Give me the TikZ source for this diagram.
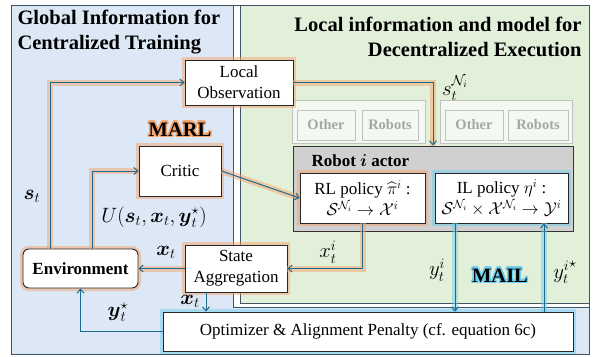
\documentclass[tikz,border=0pt]{standalone}
\usepackage{amsmath}
\usepackage{fontspec}
\setmainfont{Liberation Serif}
\usepackage{contour}
\usetikzlibrary{arrows.meta}
\definecolor{panelblue}{HTML}{DCE8F5}
\definecolor{panelgreen}{HTML}{E2F0D9}
\definecolor{framegray}{HTML}{3F5563}
\definecolor{linkblue}{HTML}{1F6A8E}
\definecolor{glowor}{HTML}{F4A46C}
\definecolor{glowbl}{HTML}{6FCDEF}
\definecolor{actorgray}{HTML}{D0D0D0}
\definecolor{ghost}{HTML}{A6A6A6}
\contourlength{1.3pt}
\contournumber{24}

\begin{document}
\begin{tikzpicture}[x=1pt,y=-1pt,
  box/.style={draw=black!85,fill=white,line width=0.9pt,align=center,inner sep=0pt,font=\fontsize{17}{21}\selectfont},
  ogl/.style={preaction={draw=glowor,-,line width=6pt,opacity=.5}},
  bgl/.style={preaction={draw=glowbl,-,line width=6pt,opacity=.5}},
  link/.style={draw=linkblue,line width=1pt,-{Straight Barb[length=4pt,width=7pt]}},
  lbl/.style={font=\fontsize{20}{23}\selectfont},
  ghostbox/.style={draw=ghost!70,fill=panelgreen!40!white,line width=0.8pt,inner sep=0pt,text=ghost,font=\fontsize{14.5}{17}\selectfont\bfseries},
  head/.style={font=\fontsize{20.5}{25}\selectfont\bfseries}]
\useasboundingbox (0,0) rectangle (593,356);

% panels
\draw[framegray,fill=panelblue,line width=1pt] (11,5) rectangle (589,354);
\draw[framegray,fill=white,line width=0.8pt] (233,5) rectangle (589,307);
\draw[framegray,fill=panelgreen,line width=1pt] (240,5) rectangle (589,303);
\node[head,anchor=west,align=left] (ghead) at (14,32) {Global Information for\\Centralized Training};
\node[head,anchor=east,align=right] (lhead) at (585,37) {Local information and model for\\Decentralized Execution};

% other robots
\node[ghostbox,minimum width=133,minimum height=43] (grpa) at (358.5,121.5) {};
\node[ghostbox,minimum width=58,minimum height=30] (othera) at (326,125) {Other};
\node[ghostbox,minimum width=56,minimum height=30] (robotsa) at (390,125) {Robots};
\node[ghostbox,minimum width=132,minimum height=43] (grpb) at (506,121.5) {};
\node[ghostbox,minimum width=58,minimum height=30] (otherb) at (474,125) {Other};
\node[ghostbox,minimum width=60,minimum height=30] (robotsb) at (538,125) {Robots};

% robot actor
\node[draw=black!80,fill=actorgray,line width=1pt,minimum width=280,minimum height=85,inner sep=0pt] (actor) at (433,188.5) {};
\node[anchor=west,font=\fontsize{17}{20}\selectfont\bfseries] (actortitle) at (308,161) {Robot $\boldsymbol{i}$ actor};
\node[box,ogl,minimum width=125,minimum height=50] (rl) at (362.5,198) {RL policy $\widehat{\pi}^i$ :\\$\mathcal{S}^{\mathcal{N}_i}\to\mathcal{X}^i$};
\node[box,bgl,minimum width=133,minimum height=50] (il) at (501.5,198) {IL policy $\eta^i$ :\\$\mathcal{S}^{\mathcal{N}_i}\times\mathcal{X}^{\mathcal{N}_i}\to\mathcal{Y}^i$};

% global side
\node[box,ogl,minimum width=108,minimum height=45] (obs) at (239,82.5) {Local\\Observation};
\node[box,ogl,minimum width=82,minimum height=50] (critic) at (180,171) {Critic};
\node[box,ogl,rounded corners=6pt,minimum width=115,minimum height=39,font=\fontsize{17}{20}\selectfont\bfseries] (env) at (80.5,268.5) {Environment};
\node[box,ogl,minimum width=102,minimum height=47] (agg) at (236,268.5) {State\\Aggregation};
\node[box,bgl,minimum width=410,minimum height=39] (opt) at (368,331.5) {Optimizer \& Alignment Penalty (cf. equation 6c)};

\node[head] (marl) at (180,130) {\contour{glowor}{MARL}};
\node[head] (mail) at (500,276) {\contour{glowbl}{MAIL}};

% connectors
\coordinate (aggout) at ([xshift=-30pt]agg.south);
\coordinate (ydown) at ([xshift=-46.5pt]il.south);
\coordinate (yup) at ([xshift=42.5pt]il.south);
\draw[link,ogl] ([xshift=-30.5pt]env.north) |- (obs.west);
\draw[link,ogl] ([xshift=11.5pt]env.north) |- (critic.west);
\draw[link,ogl] (obs.east) -| (actor.north);
\draw[link,ogl] (critic.east) -- (rl.west);
\draw[link,ogl] (rl.south) |- (agg.east);
\draw[link,ogl] (agg.west) -- (env.east);
\draw[link] (aggout) -- (aggout |- opt.north);
\draw[link] (opt.west) -| (env.south);
\draw[link,bgl] (ydown) -- (ydown |- opt.north);
\draw[link,bgl] (yup |- opt.north) -- (yup);

% labels
\node[lbl] (stlbl) at (32,196) {$\boldsymbol{s}_t$};
\node[lbl] (ulbl) at (154,217) {$U(\boldsymbol{s}_t,\boldsymbol{x}_t,\boldsymbol{y}_t^\star)$};
\node[lbl] (xenv) at (166,252) {$\boldsymbol{x}_t$};
\node[lbl] (xopt) at (190,301) {$\boldsymbol{x}_t$};
\node[lbl] (ystar) at (118,312) {$\boldsymbol{y}_t^\star$};
\node[lbl] (xi) at (328,252) {$x_t^i$};
\node[lbl] (yi) at (437,270) {$y_t^i$};
\node[lbl] (yistar) at (565,272) {${y_t^i}^\star$};
\node[lbl] (sni) at (455,88) {$s_t^{\mathcal{N}_i}$};
\end{tikzpicture}
\end{document}
